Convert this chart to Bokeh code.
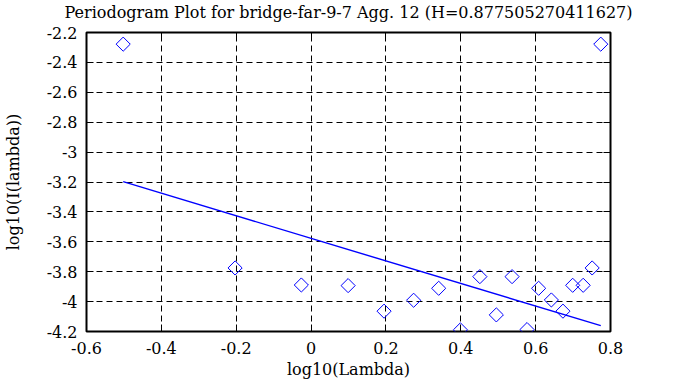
from bokeh.plotting import figure
from bokeh.models import LinearAxis, Range1d, FixedTicker, CustomLabelingPolicy
from bokeh.embed import file_html
from bokeh.resources import INLINE

title_text = "Periodogram Plot for bridge-far-9-7 Agg. 12 (H=0.877505270411627)"
x_label = "log10(Lambda)"
y_label = "log10(I(lambda))"

log_lambda = [-0.502, -0.203, -0.026, 0.099, 0.195, 0.274, 0.341, 0.399, 0.451, 0.495,
              0.537, 0.577, 0.608, 0.642, 0.673, 0.699, 0.727, 0.751, 0.774]
log_i = [-2.278, -3.775, -3.889, -3.893, -4.064, -3.991, -3.911, -4.189, -3.833, -4.089,
         -3.833, -4.187, -3.911, -3.989, -4.064, -3.891, -3.891, -3.775, -2.278]

fit_x = [-0.502, 0.774]
fit_y = [-3.198, -4.161]

x_ticks = [-0.6, -0.4, -0.2, 0, 0.2, 0.4, 0.6, 0.8]
x_tick_labels = ["-0.6", "-0.4", "-0.2", "0", "0.2", "0.4", "0.6", "0.8"]
y_ticks = [-4.2, -4, -3.8, -3.6, -3.4, -3.2, -3, -2.8, -2.6, -2.4, -2.2]
y_tick_labels = ["-4.2", "-4", "-3.8", "-3.6", "-3.4", "-3.2", "-3", "-2.8", "-2.6", "-2.4", "-2.2"]

FONT = "DejaVu Serif"

p = figure(width=678, height=387, x_range=Range1d(-0.6, 0.8), y_range=Range1d(-4.2, -2.2),
           output_backend="svg", toolbar_location=None,
           min_border_left=82, min_border_right=68, min_border_top=31, min_border_bottom=56,
           title=title_text)
p.background_fill_color = "white"
p.border_fill_color = "white"
p.outline_line_color = "black"
p.outline_line_width = 2

p.title.text_font = FONT
p.title.text_font_size = "16px"
p.title.text_font_style = "normal"
p.title.align = "center"
p.title.text_color = "black"
p.title.standoff = 0
p.title.offset = 0

for ax, ticks, labels in ((p.xaxis[0], x_ticks, x_tick_labels), (p.yaxis[0], y_ticks, y_tick_labels)):
    ax.ticker = FixedTicker(ticks=ticks)
    ax.major_label_overrides = {t: l for t, l in zip(ticks, labels)}
    ax.major_label_text_font = FONT
    ax.major_label_text_font_size = "16px"
    ax.major_label_text_color = "black"
    ax.axis_label_text_font = FONT
    ax.axis_label_text_font_size = "16px"
    ax.axis_label_text_font_style = "normal"
    ax.axis_label_text_color = "black"
    ax.major_tick_in = 7
    ax.major_tick_out = 0
    ax.major_tick_line_color = "black"
    ax.major_tick_line_width = 1
    ax.minor_tick_line_color = None
    ax.axis_line_color = None

p.xaxis.axis_label = x_label
p.yaxis.axis_label = y_label
p.xaxis.major_label_standoff = 10
p.xaxis.axis_label_standoff = 3
p.yaxis.major_label_standoff = 9
p.yaxis.axis_label_standoff = 21

no_labels = CustomLabelingPolicy(code="""
for (const i of indices) { indices.unset(i) }
return indices
""")
for loc, ticks in (("above", x_ticks), ("right", y_ticks)):
    ax = LinearAxis(ticker=FixedTicker(ticks=ticks), major_label_policy=no_labels)
    ax.major_label_standoff = 0
    ax.major_tick_in = 7
    ax.major_tick_out = 0
    ax.major_tick_line_color = "black"
    ax.minor_tick_line_color = None
    ax.axis_line_color = None
    p.add_layout(ax, loc)

p.xgrid.ticker = FixedTicker(ticks=x_ticks)
p.ygrid.ticker = FixedTicker(ticks=y_ticks)
for g in (p.xgrid[0], p.ygrid[0]):
    g.grid_line_color = "black"
    g.grid_line_dash = "6 4"
    g.grid_line_width = 1

p.line(fit_x, fit_y, line_color="#0000ff", line_width=1.4)
p.scatter(log_lambda, log_i, marker="square", angle=0.785398, size=10,
          fill_color=None, line_color="#0000ff", line_width=1)

open("out.html", "w").write(file_html(p, INLINE))
